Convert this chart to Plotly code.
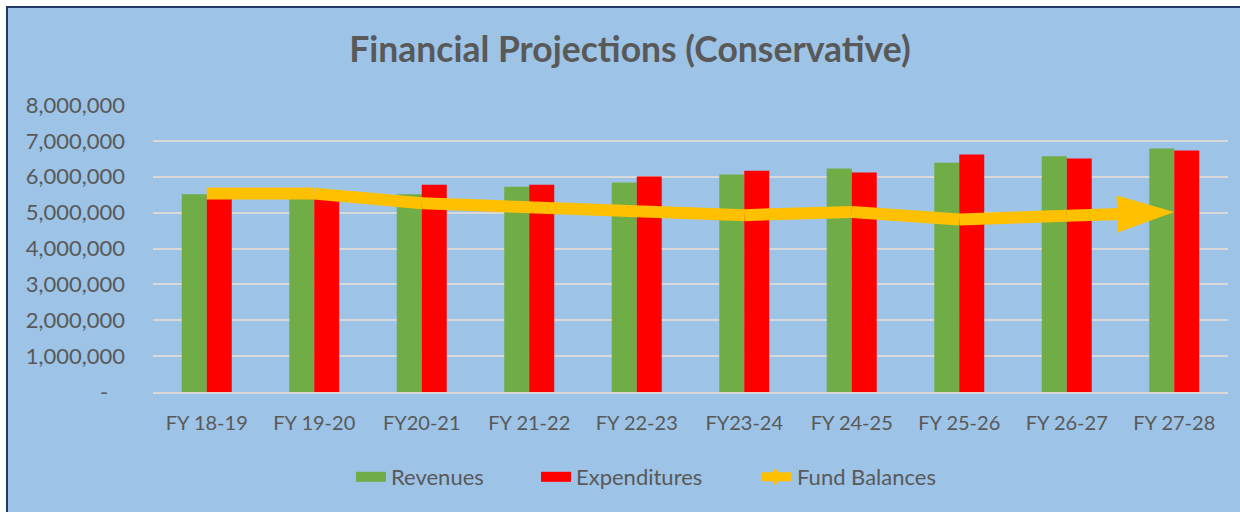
import plotly.graph_objects as go

categories = ["FY 18-19", "FY 19-20", "FY20-21", "FY 21-22", "FY 22-23",
              "FY23-24", "FY 24-25", "FY 25-26", "FY 26-27", "FY 27-28"]
revenues = [5510000, 5460000, 5510000, 5720000, 5840000,
            6060000, 6230000, 6390000, 6570000, 6790000]
expenditures = [5480000, 5420000, 5780000, 5780000, 6010000,
                6170000, 6120000, 6620000, 6510000, 6730000]
fund_balances = [5530000, 5530000, 5260000, 5160000, 5020000,
                 4930000, 5020000, 4810000, 4910000, 5020000]
y_tick_vals = [0, 1000000, 2000000, 3000000, 4000000, 5000000, 6000000, 7000000, 8000000]
y_tick_text = ["-" + "\u00a0" * 3, "1,000,000", "2,000,000", "3,000,000", "4,000,000",
               "5,000,000", "6,000,000", "7,000,000", "8,000,000"]

W, H = 1240, 512
ML, MR, MT, MB = 153, 12, 105, 120
BG = "#9DC3E6"
TXT = "#595959"
FONT = "Lato"
GREEN, RED, GOLD = "#70AD47", "#FF0000", "#FFC000"

pw = W - ML - MR
ph = H - MT - MB
def px_x(p):
    return (p - ML) / pw
def px_y(p):
    return (H - MB - p) / ph

fig = go.Figure()
fig.add_trace(go.Bar(x=categories, y=revenues, name="Revenues", showlegend=False,
                     marker=dict(color=GREEN, line=dict(width=0))))
fig.add_trace(go.Bar(x=categories, y=expenditures, name="Expenditures", showlegend=False,
                     marker=dict(color=RED, line=dict(width=0))))

n = len(categories)
sizes = [12] + [0] * (n - 2) + [60]
symbols = ["circle"] * (n - 1) + ["arrow"]
fig.add_trace(go.Scatter(x=categories, y=fund_balances, name="Fund Balances",
                         mode="lines+markers", showlegend=False,
                         line=dict(color=GOLD, width=12),
                         marker=dict(color=GOLD, size=sizes, symbol=symbols, opacity=1,
                                     angleref="previous", line=dict(width=0))))

# legend entries (one legend each so they can be spaced like the original)
fig.add_trace(go.Scatter(x=[None], y=[None], name="Revenues", mode="lines",
                         line=dict(color=GREEN, width=12), legend="legend"))
fig.add_trace(go.Scatter(x=[None], y=[None], name="Expenditures", mode="lines",
                         line=dict(color=RED, width=12), legend="legend2"))
fig.add_trace(go.Scatter(x=[None], y=[None], name="Fund Balances", mode="lines+markers",
                         line=dict(color=GOLD, width=9),
                         marker=dict(color=GOLD, size=22, symbol="triangle-right",
                                     line=dict(width=0)),
                         legend="legend3"))

shapes = [
    dict(type="rect", xref="paper", yref="paper", x0=px_x(0), x1=px_x(W), y0=px_y(0), y1=px_y(6),
         fillcolor="white", line=dict(width=0), layer="below"),
    dict(type="rect", xref="paper", yref="paper", x0=px_x(0), x1=px_x(6), y0=px_y(0), y1=px_y(H),
         fillcolor="white", line=dict(width=0), layer="below"),
    dict(type="line", xref="paper", yref="paper", x0=px_x(6), x1=px_x(W), y0=px_y(7), y1=px_y(7),
         line=dict(color="#203864", width=2), layer="below"),
    dict(type="line", xref="paper", yref="paper", x0=px_x(7), x1=px_x(7), y0=px_y(6), y1=px_y(H),
         line=dict(color="#203864", width=2), layer="below"),
]

def leg(text_start_px):
    return dict(orientation="h", x=px_x(text_start_px - 42), xanchor="left",
                y=px_y(477), yanchor="middle", font=dict(size=22, color=TXT, family=FONT),
                bgcolor="rgba(0,0,0,0)")

fig.update_layout(
    width=W, height=H,
    margin=dict(l=ML, r=MR, t=MT, b=MB),
    paper_bgcolor=BG, plot_bgcolor=BG,
    font=dict(family=FONT, color=TXT),
    title=dict(text="<b>Financial Projections (Conservative)</b>", x=0.508, xanchor="center",
               y=1 - 50 / H, yanchor="middle", font=dict(size=35.5, color=TXT, family=FONT)),
    barmode="group", bargap=0.535, bargroupgap=0,
    legend=leg(393), legend2=leg(578), legend3=leg(799),
    shapes=shapes,
    showlegend=True,
)
fig.update_yaxes(range=[0, 8000000], tickvals=y_tick_vals, ticktext=y_tick_text,
                 showgrid=True, gridcolor="#D9D9D9", gridwidth=1.5, zeroline=False,
                 tickfont=dict(size=22, color=TXT), ticklabelstandoff=27, showline=False)
fig.update_xaxes(range=[-0.5, n - 0.5], showgrid=False, showline=True, linecolor="#D9D9D9",
                 linewidth=1.5, tickfont=dict(size=20, color=TXT), ticks="", ticklabelstandoff=12)

fig.write_html("out.html")
